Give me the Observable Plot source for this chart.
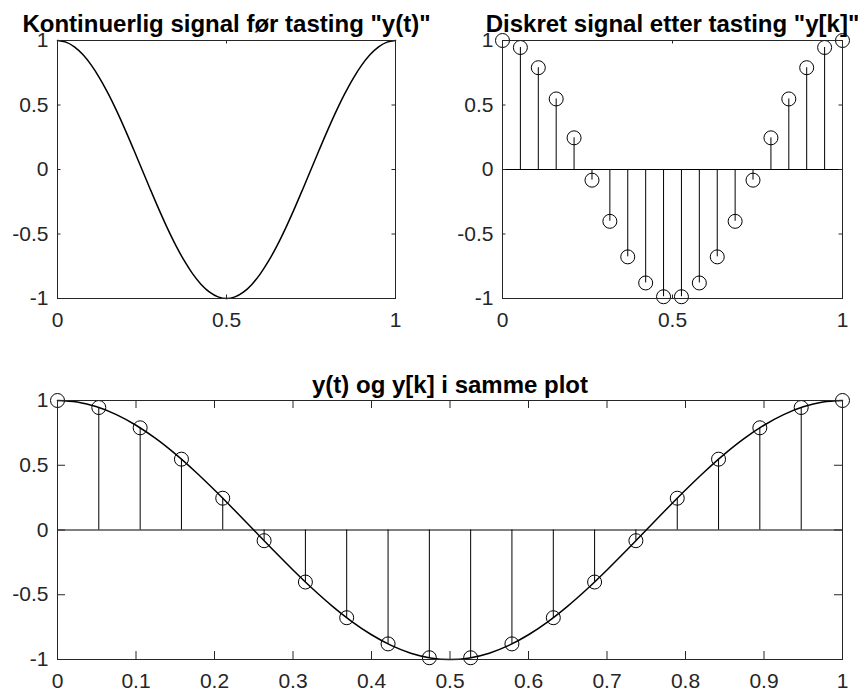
<!DOCTYPE html>
<html>
<head>
<meta charset="utf-8">
<script src="https://cdn.jsdelivr.net/npm/d3@7"></script>
<script src="https://cdn.jsdelivr.net/npm/@observablehq/plot@0.6"></script>
<style>
  html, body { margin: 0; padding: 0; background: #fff; }
  #fig { position: relative; width: 858px; height: 691px; background: #fff; }
  #fig svg { position: absolute; }
</style>
</head>
<body>
<div id="fig"></div>
<script>
// Continuous signal y(t) = cos(2πt), t in [0, 1]
const tCont = [0, 0.025, 0.05, 0.075, 0.1, 0.125, 0.15, 0.175, 0.2, 0.225, 0.25, 0.275, 0.3, 0.325, 0.35, 0.375, 0.4, 0.425, 0.45, 0.475, 0.5,
               0.525, 0.55, 0.575, 0.6, 0.625, 0.65, 0.675, 0.7, 0.725, 0.75, 0.775, 0.8, 0.825, 0.85, 0.875, 0.9, 0.925, 0.95, 0.975, 1];
const yCont = [1, 0.9877, 0.9511, 0.8910, 0.8090, 0.7071, 0.5878, 0.4540, 0.3090, 0.1564, 0, -0.1564, -0.3090, -0.4540, -0.5878, -0.7071, -0.8090, -0.8910, -0.9511, -0.9877, -1,
               -0.9877, -0.9511, -0.8910, -0.8090, -0.7071, -0.5878, -0.4540, -0.3090, -0.1564, 0, 0.1564, 0.3090, 0.4540, 0.5878, 0.7071, 0.8090, 0.8910, 0.9511, 0.9877, 1];

// Sampled signal y[k], 20 samples
const tSamples = [0, 0.0526, 0.1053, 0.1579, 0.2105, 0.2632, 0.3158, 0.3684, 0.4211, 0.4737,
                  0.5263, 0.5789, 0.6316, 0.6842, 0.7368, 0.7895, 0.8421, 0.8947, 0.9474, 1];
const ySamples = [1, 0.9458, 0.7891, 0.5469, 0.2455, -0.0826, -0.4017, -0.6773, -0.8795, -0.9864,
                  -0.9864, -0.8795, -0.6773, -0.4017, -0.0826, 0.2455, 0.5469, 0.7891, 0.9458, 1];

// Axis ticks
const yTicks = [-1, -0.5, 0, 0.5, 1];
const xTicksTop = [0, 0.5, 1];
const xTicksBottom = [0, 0.1, 0.2, 0.3, 0.4, 0.5, 0.6, 0.7, 0.8, 0.9, 1];

// Titles
const titleCont = 'Kontinuerlig signal før tasting "y(t)"';
const titleDisc = 'Diskret signal etter tasting "y[k]"';
const titleBoth = "y(t) og y[k] i samme plot";

const cont = tCont.map((t, i) => ({t, y: yCont[i]}));
const samples = tSamples.map((t, i) => ({t, y: ySamples[i]}));

const FONT = "'Liberation Sans', Arial, Helvetica, sans-serif";
const AXIS = "#262626";
const fmt = d => String(d);

function panel({left, top, width, height, margin, xTicks, tickLen, title, titleDy, marks}) {
  const [mt, mr, mb, ml] = margin;
  const fw = width - ml - mr, fh = height - mt - mb;
  const svg = Plot.plot({
    width, height,
    marginTop: mt, marginRight: mr, marginBottom: mb, marginLeft: ml,
    x: {domain: [0, 1]},
    y: {domain: [-1, 1]},
    style: {fontFamily: FONT, fontSize: "21px", color: AXIS, background: "transparent", overflow: "visible"},
    marks: [
      ...marks,
      Plot.frame({stroke: AXIS}),
      // inward ticks on all four sides
      Plot.tickX(xTicks, {x: d => d, insetTop: fh - tickLen, stroke: AXIS}),
      Plot.tickX(xTicks, {x: d => d, insetBottom: fh - tickLen, stroke: AXIS}),
      Plot.tickY(yTicks, {y: d => d, insetRight: fw - tickLen, stroke: AXIS}),
      Plot.tickY(yTicks, {y: d => d, insetLeft: fw - tickLen, stroke: AXIS}),
      Plot.axisX(xTicks, {tickSize: 0, tickPadding: 14, tickFormat: fmt, fontSize: 21, fill: AXIS, label: null}),
      Plot.axisY(yTicks, {tickSize: 0, tickPadding: 9, tickFormat: fmt, fontSize: 21, fill: AXIS, label: null}),
      Plot.text([title], {text: d => d, frameAnchor: "top", lineAnchor: "bottom", dy: titleDy,
                          fontWeight: "bold", fontSize: 24, fill: "black"})
    ]
  });
  svg.style.left = left + "px";
  svg.style.top = top + "px";
  document.getElementById("fig").appendChild(svg);
}

const stemMarks = [
  Plot.ruleY([0], {stroke: "black"}),
  Plot.ruleX(samples, {x: "t", y1: 0, y2: "y", stroke: "black"}),
  Plot.dot(samples, {x: "t", y: "y", r: 7, stroke: "black", fill: "none", strokeWidth: 1})
];

// Continuous signal
panel({
  left: 0, top: 0, width: 440, height: 350, margin: [40, 45, 52, 57],
  xTicks: xTicksTop, tickLen: 3.5, title: titleCont, titleDy: -9,
  marks: [Plot.line(cont, {x: "t", y: "y", stroke: "black", curve: "catmull-rom"})]
});

// Discrete signal
panel({
  left: 440, top: 0, width: 418, height: 350, margin: [40, 16, 52, 62],
  xTicks: xTicksTop, tickLen: 3.5, title: titleDisc, titleDy: -9,
  marks: stemMarks
});

// Both in one plot
panel({
  left: 0, top: 350, width: 858, height: 341, margin: [50, 16, 32, 57],
  xTicks: xTicksBottom, tickLen: 8, title: titleBoth, titleDy: -8,
  marks: [
    ...stemMarks,
    Plot.line(cont, {x: "t", y: "y", stroke: "black", curve: "catmull-rom"})
  ]
});
</script>
</body>
</html>
